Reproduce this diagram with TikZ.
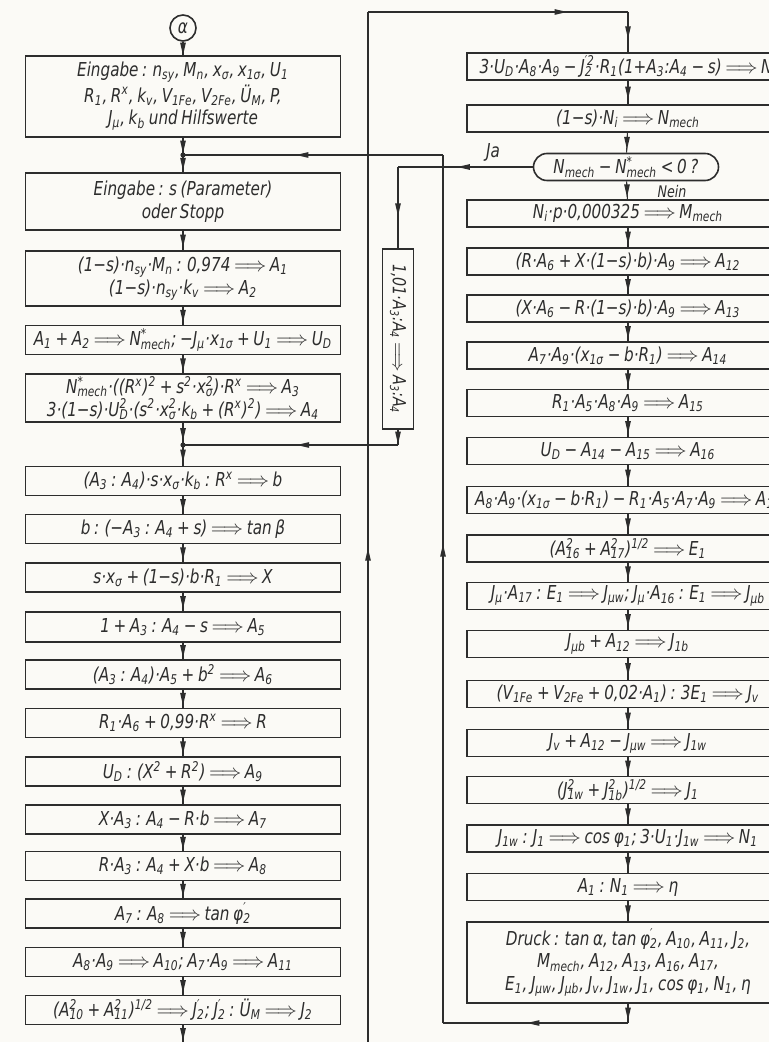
\documentclass[tikz,border=0pt]{standalone}
\usepackage{fontspec}
\setmainfont{DejaVu Sans Condensed}[FakeStretch=0.88,WordSpace=0.75]
\usetikzlibrary{shapes.misc}
\definecolor{ink}{RGB}{45,45,45}
\definecolor{paper}{RGB}{251,250,246}
\newsavebox\hlsupbox
\newsavebox\hlsubbox
\newcommand\Lo[1]{\textsubscript{#1}}
\newcommand\Hi[1]{\textsuperscript{#1}}
\newcommand\HL[2]{{\sbox\hlsupbox{\textsuperscript{#1}}\sbox\hlsubbox{\textsubscript{#2}}\ifdim\wd\hlsupbox>\wd\hlsubbox\rlap{\usebox\hlsubbox}\usebox\hlsupbox\else\rlap{\usebox\hlsupbox}\usebox\hlsubbox\fi}}
\newcommand\IMP{ $\Longrightarrow$ }
% arrow head at a point, pointing in a direction (degrees)
\newcommand\tipat[2]{\fill[ink,shift={#1},rotate=#2] (3.3pt,0pt) -- (-2.9pt,1.45pt) -- (-2.9pt,-1.45pt) -- cycle;}
% connector between two named points with an arrow head at relative position #3, direction #4
\newcommand\link[4]{\draw[conn] (#1) -- (#2) coordinate[pos=#3] (tmpm); \tipat{(tmpm)}{#4}}
\begin{document}
\begin{tikzpicture}[x=0.5pt,y=-0.5pt,
  font=\fontsize{9.6}{11.3}\selectfont\itshape,
  lbox/.style={draw=ink, line width=0.8pt, minimum width=157.5pt, minimum height=14.5pt, inner sep=0pt, align=center, text=ink},
  rbox/.style={draw=ink, line width=0.8pt, minimum width=161pt, minimum height=13.5pt, inner sep=0pt, align=center, text=ink},
  lbl/.style={text=ink, inner sep=0pt},
  conn/.style={draw=ink, line width=0.55pt}]
\useasboundingbox (0,0) rectangle (769,1042);
\fill[paper] (0,0) rectangle (769,1042);
\clip (0,0) rectangle (769,1042);

% ---------- left column ----------
\node[draw=ink, line width=0.8pt, circle, minimum size=13pt, inner sep=0pt, text=ink] (alpha) at (183,28) {α};
\node[lbox, minimum height=40.5pt] (L1) at (183,96.5) {Eingabe : n\Lo{sy}, M\Lo{n}, x\Lo{σ}, x\Lo{1σ}, U\Lo{1}\\ R\Lo{1}, R\Hi{x}, k\Lo{v}, V\Lo{1Fe}, V\Lo{2Fe}, Ü\Lo{M}, P,\\ J\Lo{μ}, k\Lo{b} und Hilfswerte};
\coordinate (j1) at (183,155);
\node[lbox, minimum height=28.5pt] (L2) at (183,201.5) {Eingabe : s (Parameter)\\ oder Stopp};
\node[lbox, minimum height=27.5pt] (L3) at (183,278.5) {(1−s)·n\Lo{sy}·M\Lo{n} : 0,974\IMP A\Lo{1}\\ (1−s)·n\Lo{sy}·k\Lo{v}\IMP A\Lo{2}};
\node[lbox] (L4) at (183,340) {A\Lo{1} + A\Lo{2}\IMP N\HL{*}{mech}; −J\Lo{μ}·x\Lo{1σ} + U\Lo{1}\IMP U\Lo{D}};
\node[lbox, minimum height=24pt] (L5) at (183,398) {N\HL{*}{mech}·((R\Hi{x})\Hi{2} + s\Hi{2}·x\HL{2}{σ})·R\Hi{x}\IMP A\Lo{3}\\ 3·(1−s)·U\HL{2}{D}·(s\Hi{2}·x\HL{2}{σ}·k\Lo{b} + (R\Hi{x})\Hi{2})\IMP A\Lo{4}};
\coordinate (j2) at (183,445);
\node[lbox] (L6) at (183,481) {(A\Lo{3} : A\Lo{4})·s·x\Lo{σ}·k\Lo{b} : R\Hi{x}\IMP b};
\node[lbox] (L7) at (183,529) {b : (−A\Lo{3} : A\Lo{4} + s)\IMP tan β};
\node[lbox] (L8) at (183,577.5) {s·x\Lo{σ} + (1−s)·b·R\Lo{1}\IMP X};
\node[lbox, minimum height=15pt] (L9) at (183,627) {1 + A\Lo{3} : A\Lo{4} − s\IMP A\Lo{5}};
\node[lbox] (L10) at (183,674.5) {(A\Lo{3} : A\Lo{4})·A\Lo{5} + b\Hi{2}\IMP A\Lo{6}};
\node[lbox] (L11) at (183,723) {R\Lo{1}·A\Lo{6} + 0,99·R\Hi{x}\IMP R};
\node[lbox] (L12) at (183,771.5) {U\Lo{D} : (X\Hi{2} + R\Hi{2})\IMP A\Lo{9}};
\node[lbox] (L13) at (183,819.5) {X·A\Lo{3} : A\Lo{4} − R·b\IMP A\Lo{7}};
\node[lbox] (L14) at (183,866) {R·A\Lo{3} : A\Lo{4} + X·b\IMP A\Lo{8}};
\node[lbox] (L15) at (183,913.5) {A\Lo{7} : A\Lo{8}\IMP tan φ\HL{′}{2}};
\node[lbox] (L16) at (183,962) {A\Lo{8}·A\Lo{9}\IMP A\Lo{10}; A\Lo{7}·A\Lo{9}\IMP A\Lo{11}};
\node[lbox] (L17) at (183,1010) {(A\HL{2}{10} + A\HL{2}{11})\Hi{1/2}\IMP J\HL{′}{2}; J\HL{′}{2} : Ü\Lo{M}\IMP J\Lo{2}};
\coordinate (Lend) at (183,1050);

% ---------- middle ----------
\node[draw=ink, line width=0.8pt, rotate=-90, minimum width=90pt, minimum height=15.5pt, inner sep=0pt, text=ink, font=\fontsize{9}{10}\selectfont\itshape] (B) at (398,339) {1,01·A\Lo{3}:A\Lo{4}\IMP A\Lo{3}:A\Lo{4}};

% ---------- right column ----------
\node[rbox] (R1) at (628,66.5) {3·U\Lo{D}·A\Lo{8}·A\Lo{9} − J\HL{′2}{2}·R\Lo{1}(1+A\Lo{3}:A\Lo{4} − s)\IMP N\Lo{i}};
\node[rbox] (R2) at (628,118.5) {(1−s)·N\Lo{i}\IMP N\Lo{mech}};
\node[draw=ink, line width=0.8pt, rounded rectangle, minimum width=92.5pt, minimum height=13.5pt, inner sep=0pt, text=ink] (D) at (626,167) {N\Lo{mech} − N\HL{*}{mech} < 0 ?};
\node[rbox] (R3) at (628,213.5) {N\Lo{i}·p·0,000325\IMP M\Lo{mech}};
\node[rbox] (R4) at (628,261.5) {(R·A\Lo{6} + X·(1−s)·b)·A\Lo{9}\IMP A\Lo{12}};
\node[rbox] (R5) at (628,308.5) {(X·A\Lo{6} − R·(1−s)·b)·A\Lo{9}\IMP A\Lo{13}};
\node[rbox] (R6) at (628,355.5) {A\Lo{7}·A\Lo{9}·(x\Lo{1σ} − b·R\Lo{1})\IMP A\Lo{14}};
\node[rbox] (R7) at (628,403) {R\Lo{1}·A\Lo{5}·A\Lo{8}·A\Lo{9}\IMP A\Lo{15}};
\node[rbox] (R8) at (628,451) {U\Lo{D} − A\Lo{14} − A\Lo{15}\IMP A\Lo{16}};
\node[rbox] (R9) at (628,500) {A\Lo{8}·A\Lo{9}·(x\Lo{1σ} − b·R\Lo{1}) − R\Lo{1}·A\Lo{5}·A\Lo{7}·A\Lo{9}\IMP A\Lo{17}};
\node[rbox] (R10) at (628,548.5) {(A\HL{2}{16} + A\HL{2}{17})\Hi{1/2}\IMP E\Lo{1}};
\node[rbox] (R11) at (628,596) {J\Lo{μ}·A\Lo{17} : E\Lo{1}\IMP J\Lo{μw}; J\Lo{μ}·A\Lo{16} : E\Lo{1}\IMP J\Lo{μb}};
\node[rbox] (R12) at (628,644) {J\Lo{μb} + A\Lo{12}\IMP J\Lo{1b}};
\node[rbox] (R13) at (628,694) {(V\Lo{1Fe} + V\Lo{2Fe} + 0,02·A\Lo{1}) : 3E\Lo{1}\IMP J\Lo{v}};
\node[rbox] (R14) at (628,743) {J\Lo{v} + A\Lo{12} − J\Lo{μw}\IMP J\Lo{1w}};
\node[rbox] (R15) at (628,790) {(J\HL{2}{1w} + J\HL{2}{1b})\Hi{1/2}\IMP J\Lo{1}};
\node[rbox] (R16) at (628,838.5) {J\Lo{1w} : J\Lo{1}\IMP cos φ\Lo{1}; 3·U\Lo{1}·J\Lo{1w}\IMP N\Lo{1}};
\node[rbox] (R17) at (628,887) {A\Lo{1} : N\Lo{1}\IMP η};
\node[rbox, minimum height=40.5pt] (RD) at (628,962.5) {Druck : tan α, tan φ\HL{′}{2}, A\Lo{10}, A\Lo{11}, J\Lo{2},\\ M\Lo{mech}, A\Lo{12}, A\Lo{13}, A\Lo{16}, A\Lo{17},\\ E\Lo{1}, J\Lo{μw}, J\Lo{μb}, J\Lo{v}, J\Lo{1w}, J\Lo{1}, cos φ\Lo{1}, N\Lo{1}, η};

\node[lbl] (ja) at (493,152) {Ja};
\node[lbl, font=\fontsize{8}{9}\selectfont\itshape] (nein) at (672,192) {Nein};

% ---------- helper points ----------
\coordinate (ja1) at (398,167);
\coordinate (jb) at (398,445);
\coordinate (lp1) at (628,1023);
\coordinate (lp2) at (443,1023);
\coordinate (lp3) at (443,155);
\coordinate (t0) at (368,1050);
\coordinate (t1) at (368,12);
\coordinate (t2) at (628,12);

% ---------- left connectors ----------
\foreach \a/\b in {alpha/L1, L1/j1, j1/L2, L2/L3, L3/L4, L4/L5, L5/j2, j2/L6, L6/L7, L7/L8, L8/L9, L9/L10, L10/L11, L11/L12, L12/L13, L13/L14, L14/L15, L15/L16, L16/L17}
  {\link{\a}{\b}{0.5}{-90}}
\link{L17}{Lend}{0.35}{-90}
\fill[ink] (j1) circle (1.3pt);
\fill[ink] (j2) circle (1.3pt);

% ---------- right connectors ----------
\foreach \a/\b in {t2/R1, R1/R2, R2/D, D/R3, R3/R4, R4/R5, R5/R6, R6/R7, R7/R8, R8/R9, R9/R10, R10/R11, R11/R12, R12/R13, R13/R14, R14/R15, R15/R16, R16/R17, R17/RD}
  {\link{\a}{\b}{0.5}{-90}}

% ---------- loops ----------
\link{RD}{lp1}{0.5}{-90}
\link{lp1}{lp2}{0.51}{180}
\link{lp2}{lp3}{0.544}{90}
\link{lp3}{j1}{0.54}{180}
\link{D}{ja1}{0.51}{180}
\link{ja1}{B}{0.52}{-90}
\link{B}{jb}{0.5}{-90}
\link{jb}{j2}{0.44}{180}
\link{t0}{t1}{0.477}{90}
\link{t1}{t2}{0.74}{0}
\end{tikzpicture}
\end{document}
